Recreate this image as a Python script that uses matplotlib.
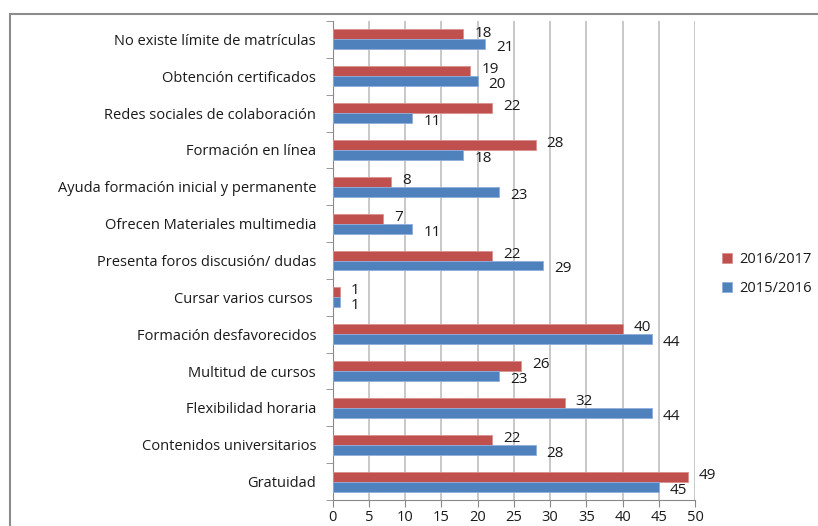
import matplotlib.pyplot as plt
import matplotlib.patches as mpatches
import numpy as np

plt.rcParams['font.family'] = ['Open Sans', 'DejaVu Sans']

# datos (de abajo hacia arriba)
categorias = ['Gratuidad', 'Contenidos universitarios', 'Flexibilidad horaria',
              'Multitud de cursos', 'Formación desfavorecidos', 'Cursar varios cursos ',
              'Presenta foros discusión/ dudas', 'Ofrecen Materiales multimedia',
              'Ayuda formación inicial y permanente', 'Formación en línea',
              'Redes sociales de colaboración', 'Obtención certificados',
              'No existe límite de matrículas']
v_2016_2017 = [49, 22, 32, 26, 40, 1, 22, 7, 8, 28, 22, 19, 18]
v_2015_2016 = [45, 28, 44, 23, 44, 1, 29, 11, 23, 18, 11, 20, 21]
series = ['2016/2017', '2015/2016']
x_ticks = list(range(0, 51, 5))

RED = '#C0504D'
BLUE = '#4F81BD'
TXT = '#1a1a1a'

fig = plt.figure(figsize=(8.18, 5.26), dpi=100)
ax = fig.add_axes([332.7 / 818, 1 - 500 / 526, (695 - 332.7) / 818, (500 - 21) / 526])

y = np.arange(len(categorias))
h = 0.27
b_red = ax.barh(y + h / 2, v_2016_2017, height=h, color=RED, edgecolor='#D9908E',
                linewidth=0.6, label=series[0], zorder=3)
b_blue = ax.barh(y - h / 2, v_2015_2016, height=h, color=BLUE, edgecolor='#8FAEDB',
                 linewidth=0.6, label=series[1], zorder=3)

for bar, v in zip(b_red, v_2016_2017):
    ax.annotate(str(v), (bar.get_width(), bar.get_y() + bar.get_height() / 2),
                xytext=(8, 1), textcoords='offset points', ha='left', va='center',
                fontsize=11, color=TXT)
for bar, v in zip(b_blue, v_2015_2016):
    ax.annotate(str(v), (bar.get_width(), bar.get_y() + bar.get_height() / 2),
                xytext=(8, -2.5), textcoords='offset points', ha='left', va='center',
                fontsize=11, color=TXT)

ax.set_xlim(0, 50)
ax.set_ylim(-0.5, len(categorias) - 0.5)
ax.set_xticks(x_ticks)
ax.set_xticklabels([str(t) for t in x_ticks], fontsize=10.5, color=TXT)
ax.set_yticks(y)
ax.set_yticklabels(categorias, fontsize=10.5, color=TXT)
ax.tick_params(axis='y', which='major', length=0, pad=12)
ax.set_yticks(np.arange(-0.5, len(categorias), 1), minor=True)
ax.tick_params(axis='y', which='minor', length=5, color='#888888')
ax.tick_params(axis='x', length=5, color='#888888', pad=2)

ax.grid(True, axis='x', color='#BFBFBF', linewidth=1.2, zorder=0)
ax.set_axisbelow(True)
for s in ['top', 'right']:
    ax.spines[s].set_visible(False)
ax.spines['left'].set_color('#888888')
ax.spines['bottom'].set_color('#888888')

fig.legend(handles=[b_red, b_blue], labels=series, loc='center left',
           bbox_to_anchor=(722 / 818, 1 - 274 / 526), frameon=False,
           borderpad=0, borderaxespad=0,
           fontsize=10.5, handlelength=0.7, handleheight=0.7, handletextpad=0.45,
           labelspacing=0.95, labelcolor=TXT)

# marco del gráfico
fig.add_artist(mpatches.Rectangle((10 / 818, -0.1), 1.0, 1 - 13.5 / 526 + 0.1,
                                  transform=fig.transFigure, fill=False,
                                  edgecolor='#8C8C8C', linewidth=1.5))

fig.savefig('out.png', dpi=100)
